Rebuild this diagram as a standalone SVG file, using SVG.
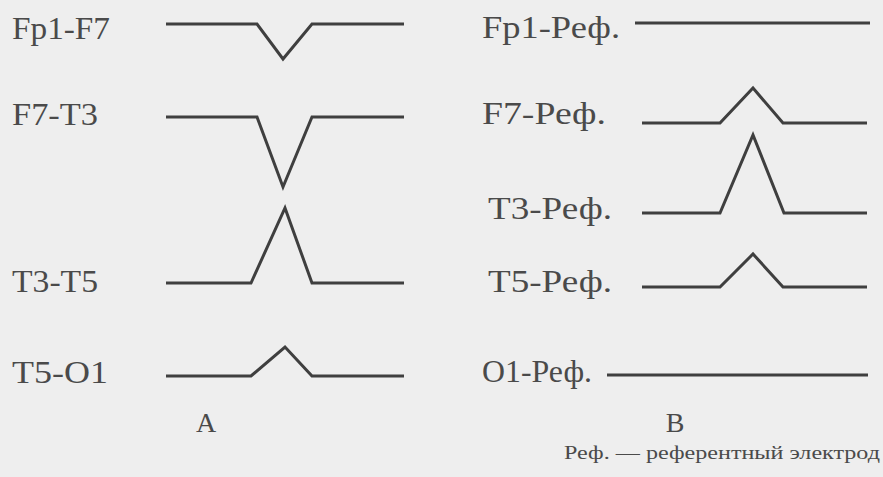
<svg xmlns="http://www.w3.org/2000/svg" width="883" height="477" viewBox="0 0 883 477">
  <style>
    text { font-family: "Liberation Serif", "Times New Roman", Tinos, "DejaVu Serif", "Noto Serif", Georgia, serif; fill: #4a4a4a; }
    .lbl { font-size: 31px; }
    .cap { font-size: 28px; text-anchor: middle; }
    .note { font-size: 18px; }
    .trace { fill: none; stroke: #3f3f3f; stroke-width: 3; stroke-linejoin: miter; }
  </style>
  <rect width="883" height="477" fill="#eeeeee"/>

  <g id="panel-A">
    <g id="a-fp1-f7">
      <text class="lbl" x="12" y="39" textLength="98" lengthAdjust="spacingAndGlyphs">Fp1-F7</text>
    </g>
    <g id="a-f7-t3">
      <text class="lbl" x="12" y="125" textLength="86" lengthAdjust="spacingAndGlyphs">F7-T3</text>
    </g>
    <g id="a-t3-t5">
      <text class="lbl" x="12" y="292" textLength="86" lengthAdjust="spacingAndGlyphs">T3-T5</text>
    </g>
    <g id="a-t5-o1">
      <text class="lbl" x="12" y="383" textLength="96" lengthAdjust="spacingAndGlyphs">T5-O1</text>
    </g>
    <g id="a-caption">
      <text class="cap" x="206" y="432">A</text>
    </g>
  </g>

  <g id="panel-B">
    <g id="b-fp1">
      <text class="lbl" x="482" y="38" textLength="138" lengthAdjust="spacingAndGlyphs">Fp1-Реф.</text>
    </g>
    <g id="b-f7">
      <text class="lbl" x="482" y="124" textLength="124" lengthAdjust="spacingAndGlyphs">F7-Реф.</text>
    </g>
    <g id="b-t3">
      <text class="lbl" x="488" y="219" textLength="124" lengthAdjust="spacingAndGlyphs">T3-Реф.</text>
    </g>
    <g id="b-t5">
      <text class="lbl" x="488" y="292" textLength="124" lengthAdjust="spacingAndGlyphs">T5-Реф.</text>
    </g>
    <g id="b-o1">
      <text class="lbl" x="482" y="382" textLength="110" lengthAdjust="spacingAndGlyphs">O1-Реф.</text>
    </g>
    <g id="b-caption">
      <text class="cap" x="675" y="432">B</text>
    </g>
    <g id="footnote">
      <text class="note" x="564" y="459" textLength="316" lengthAdjust="spacingAndGlyphs">Реф. — референтный электрод</text>
    </g>
  </g>

  <g id="connectors">
    <polyline class="trace" points="166,24 257,24 283,59 312,24 404,24"/>
    <polyline class="trace" points="166,117 257,117 283,187 312,117 404,117"/>
    <polyline class="trace" points="166,283 251,283 285,208 312,283 404,283"/>
    <polyline class="trace" points="166,376 251,376 285,347 312,376 404,376"/>

    <polyline class="trace" points="635,23 870,23"/>
    <polyline class="trace" points="642,123 720,123 753,88 783,123 867,123"/>
    <polyline class="trace" points="642,213 720,213 753,135 784,213 867,213"/>
    <polyline class="trace" points="642,287 720,287 753,254 783,287 867,287"/>
    <polyline class="trace" points="607,375 868,375"/>
  </g>
</svg>
